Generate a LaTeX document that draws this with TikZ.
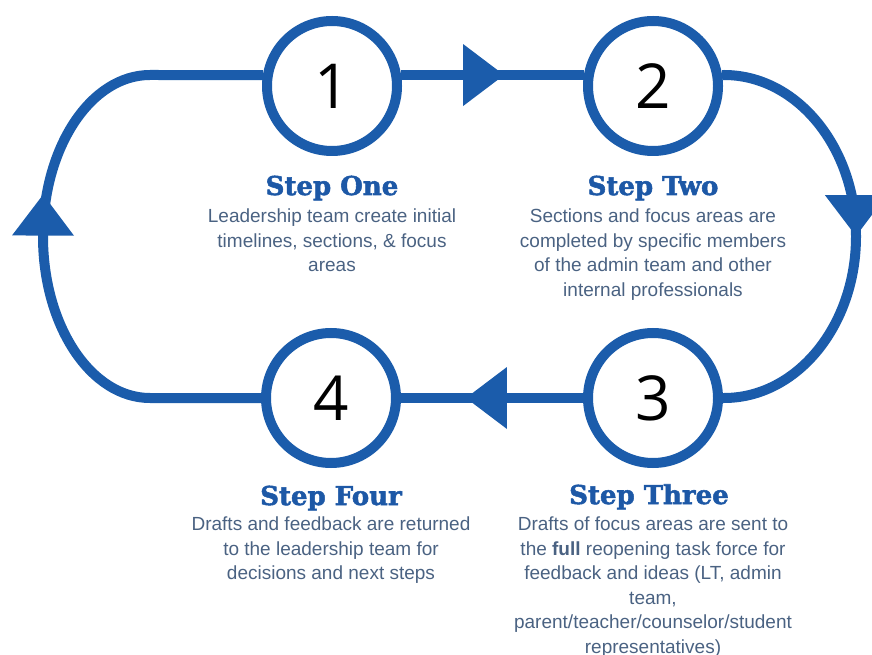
\documentclass[tikz,border=0pt]{standalone}
\usepackage{fontspec}
\setmainfont{Liberation Sans}
\newfontfamily\headfont{DejaVu Serif}[BoldFeatures={FakeBold=2}]
\newfontfamily\numfont{Open Sans}
\usepackage{tikz}
\usetikzlibrary{decorations.markings}
\definecolor{loopblue}{HTML}{1B5CAB}
\definecolor{headblue}{HTML}{1D58A6}
\definecolor{bodygrey}{HTML}{4A6282}
% filled triangle on a connector: #1 = position, #2 = offset of its base
\tikzset{tri/.style 2 args={postaction={decorate}, decoration={markings,
  mark=at position #1 with {\fill[loopblue] (#2pt,-31pt) -- ++(41pt,31pt) -- ++(-41pt,31pt) -- cycle;}}}}

\begin{document}
\begin{tikzpicture}[x=1pt, y=1pt, >=latex]
\tikzstyle{stepcircle} = [draw=loopblue, fill=white, circle, line width=10pt, minimum size=130pt, inner sep=0pt, text=black, font=\numfont\fontsize{62}{62}\selectfont]
\tikzstyle{stephead} = [anchor=base, text=headblue, font=\headfont\bfseries\fontsize{26}{30}\selectfont]
\tikzstyle{stepbody} = [anchor=north, inner sep=0pt, align=center, text=bodygrey, font=\fontsize{19}{24.5}\selectfont]
\tikzstyle{loopline} = [draw=loopblue, line width=10pt]

\useasboundingbox (0,0) rectangle (872,654);

    % We start by placing the four steps
    \node [stepcircle] (c1) at (332,568) {1};
    \node [stepcircle] (c2) at (653,568) {2};
    \node [stepcircle] (c3) at (653,256) {3};
    \node [stepcircle] (c4) at (331,256) {4};

    \node [stephead] (h1) at ([yshift=-109pt]c1.center) {Step One};
    \node [stepbody] (t1) at ([yshift=-14pt]h1.base) {Leadership team create initial\\timelines, sections, \& focus\\areas};
    \node [stephead] (h2) at ([yshift=-109pt]c2.center) {Step Two};
    \node [stepbody] (t2) at ([yshift=-14pt]h2.base) {Sections and focus areas are\\completed by specific members\\of the admin team and other\\internal professionals};
    \node [stephead] (h3) at ([xshift=-4pt,yshift=-106pt]c3.center) {Step Three};
    \node [stepbody] (t3) at ([xshift=4pt,yshift=-13pt]h3.base) {Drafts of focus areas are sent to\\the \textbf{full} reopening task force for\\feedback and ideas (LT, admin\\team,\\parent/teacher/counselor/student\\representatives)};
    \node [stephead] (h4) at ([yshift=-107pt]c4.center) {Step Four};
    \node [stepbody] (t4) at ([yshift=-12pt]h4.base) {Drafts and feedback are returned\\to the leadership team for\\decisions and next steps};

    % Once the steps are placed, the loop runs round them
    \draw [loopline, tri={0.339}{0}] (c1.9) -- (c2.171);
    \draw [loopline, tri={0.5}{-41}] (c2.9) -- (724,579) arc[start angle=90, end angle=-90, x radius=132, y radius=161.5] -- (c3.east);
    \draw [loopline, tri={0.643}{-41}] (c3.west) -- (c4.east);
    \draw [loopline, tri={0.5}{0}] (c4.west) -- (150,256) arc[start angle=270, end angle=90, x radius=107, y radius=161.5] -- (c1.171);

\end{tikzpicture}
\end{document}
